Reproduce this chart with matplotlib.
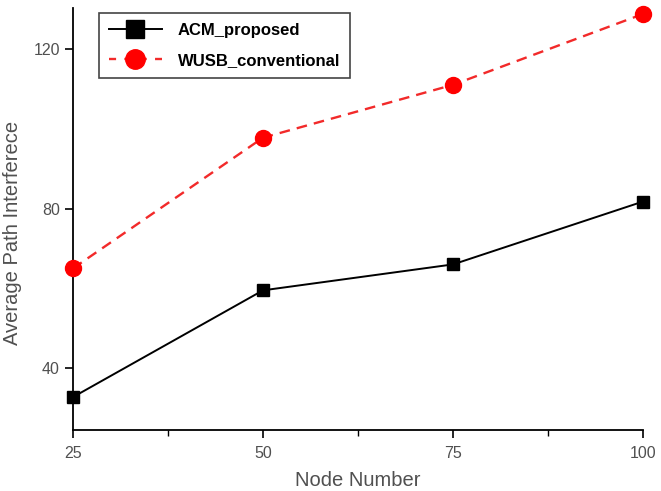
import numpy as np
import matplotlib
matplotlib.use("Agg")
import matplotlib.pyplot as plt
from matplotlib.lines import Line2D

# data
node_number = [25, 50, 75, 100]
acm_proposed = [32.75, 59.5, 66.0, 81.75]
wusb_conventional = [65.0, 97.75, 111.0, 128.75]

plt.rcParams["font.family"] = ["Liberation Sans", "DejaVu Sans"]

fig = plt.figure(figsize=(6.61, 4.91), dpi=100)
ax = fig.add_axes([0.1104, 0.1242, 0.8624, 0.8595])

ax.plot(node_number, acm_proposed, color="black", lw=1.4,
        marker="s", markersize=8.5, clip_on=False, zorder=3)
ax.plot(node_number, wusb_conventional, color="#f22a2a", lw=1.7, ls=(0, (4.5, 3)),
        marker="o", markersize=11.5, markeredgecolor="#ff0000",
        markerfacecolor="#ff0000", clip_on=False, zorder=3)

ax.set_xlim(25, 100)
ax.set_ylim(24.5, 130.25)
ax.set_xticks([25, 50, 75, 100])
ax.set_xticks([37.5, 62.5, 87.5], minor=True)
ax.set_yticks([40, 80, 120])

for s in ["top", "right"]:
    ax.spines[s].set_visible(False)
for s in ["left", "bottom"]:
    ax.spines[s].set_linewidth(1.3)

ax.tick_params(which="major", direction="out", length=5.5, width=1.2,
               labelsize=11.5, labelcolor="#505050", pad=4)
ax.tick_params(axis="x", which="major", pad=6)
ax.tick_params(which="minor", direction="out", length=4, width=1.0)

ax.set_xlabel("Node Number", fontsize=14.5, color="#505050", va="top")
ax.set_ylabel("Average Path Interferece", fontsize=14.5, color="#505050")
ax.xaxis.set_label_coords(0.5, -0.098)
ax.yaxis.set_label_coords(-0.089, 0.467)

handles = [
    Line2D([0], [0], color="black", lw=1.4, marker="s", markersize=13),
    Line2D([0], [0], color="#f22a2a", lw=1.7, ls=(0, (3, 3.5)), marker="o",
           markersize=14, markerfacecolor="#ff0000", markeredgecolor="#ff0000"),
]
leg = ax.legend(handles, ["ACM_proposed", "WUSB_conventional"],
                loc="upper left", bbox_to_anchor=(0.045, 0.988),
                prop={"weight": "bold", "size": 12}, fancybox=False,
                edgecolor="#444444", framealpha=1, handlelength=3.2,
                borderpad=0.6, labelspacing=0.9, handletextpad=0.95,
                borderaxespad=0)
leg.get_frame().set_linewidth(1.2)

plt.savefig("out.png", dpi=100)
plt.close()
